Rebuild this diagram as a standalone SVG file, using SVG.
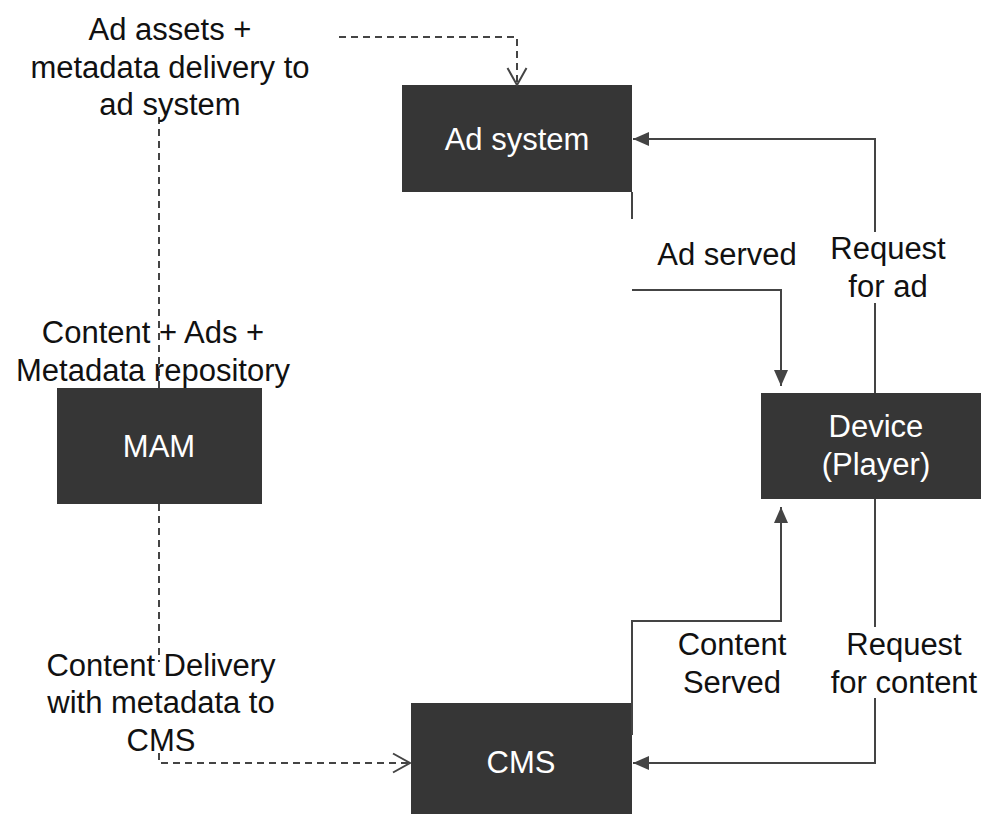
<svg xmlns="http://www.w3.org/2000/svg" width="981" height="814" viewBox="0 0 981 814">
  <defs>
    <style>
      .box { fill: #363636; }
      .label { font-family: "Liberation Sans", Arial, sans-serif; font-size: 31px; fill: #111111; text-anchor: middle; }
      .boxlabel { font-family: "Liberation Sans", Arial, sans-serif; font-size: 31px; fill: #ffffff; text-anchor: middle; }
      .solid { fill: none; stroke: #444444; stroke-width: 2; }
      .dashed { fill: none; stroke: #444444; stroke-width: 2; stroke-dasharray: 7 5; }
    </style>
    <marker id="arrowFilled" markerUnits="userSpaceOnUse" markerWidth="16" markerHeight="14" refX="16" refY="7" orient="auto">
      <path d="M0,0 L16,7 L0,14 Z" fill="#444444"/>
    </marker>
    <marker id="arrowOpen" markerUnits="userSpaceOnUse" markerWidth="20" markerHeight="22" refX="18" refY="11" orient="auto">
      <path d="M1,1.5 L18,11 L1,20.5" fill="none" stroke="#444444" stroke-width="2"/>
    </marker>
  </defs>

  <rect width="981" height="814" fill="#ffffff"/>

  <!-- Nodes -->
  <g id="ad-system">
    <rect class="box" x="402" y="85" width="230" height="107"/>
    <text class="boxlabel" x="517" y="150">Ad system</text>
  </g>
  <g id="mam">
    <rect class="box" x="57" y="388" width="205" height="116"/>
    <text class="boxlabel" x="159" y="457">MAM</text>
  </g>
  <g id="device">
    <rect class="box" x="761" y="393" width="230" height="106"/>
    <text class="boxlabel" x="876" y="437">Device</text>
    <text class="boxlabel" x="876" y="475">(Player)</text>
  </g>
  <g id="cms">
    <rect class="box" x="411" y="703" width="221" height="111"/>
    <text class="boxlabel" x="521" y="773">CMS</text>
  </g>

  <!-- Connectors -->
  <g id="connectors">
    <!-- MAM to Ad system: asset + metadata delivery -->
    <path class="dashed" d="M159,388 V114 M339,37 H517 V85" marker-end="url(#arrowOpen)"/>
    <!-- MAM to CMS: content delivery -->
    <path class="dashed" d="M159,504 V662 M159,753 V763 H410" marker-end="url(#arrowOpen)"/>
    <!-- Device to Ad system: request for ad -->
    <path class="solid" d="M875,393 V303 M875,232 V139 H633" marker-end="url(#arrowFilled)"/>
    <!-- Ad system to Device: ad served -->
    <path class="solid" d="M632,192 V219 M632,290 H781 V386" marker-end="url(#arrowFilled)"/>
    <!-- CMS to Device: content served -->
    <path class="solid" d="M632,735 V621 H781 V507" marker-end="url(#arrowFilled)"/>
    <!-- Device to CMS: request for content -->
    <path class="solid" d="M875,499 V627 M875,698 V763 H633" marker-end="url(#arrowFilled)"/>
  </g>

  <!-- Connector labels -->
  <g id="labels">
    <text class="label" x="170" y="40">Ad assets +</text>
    <text class="label" x="170" y="78">metadata delivery to</text>
    <text class="label" x="170" y="115">ad system</text>

    <text class="label" x="153" y="343">Content + Ads +</text>
    <text class="label" x="153" y="381">Metadata repository</text>

    <text class="label" x="727" y="265">Ad served</text>

    <text class="label" x="888" y="259">Request</text>
    <text class="label" x="888" y="297">for ad</text>

    <text class="label" x="732" y="655">Content</text>
    <text class="label" x="732" y="693">Served</text>

    <text class="label" x="904" y="655">Request</text>
    <text class="label" x="904" y="693">for content</text>

    <text class="label" x="161" y="676">Content Delivery</text>
    <text class="label" x="161" y="713">with metadata to</text>
    <text class="label" x="161" y="751">CMS</text>
  </g>
</svg>
